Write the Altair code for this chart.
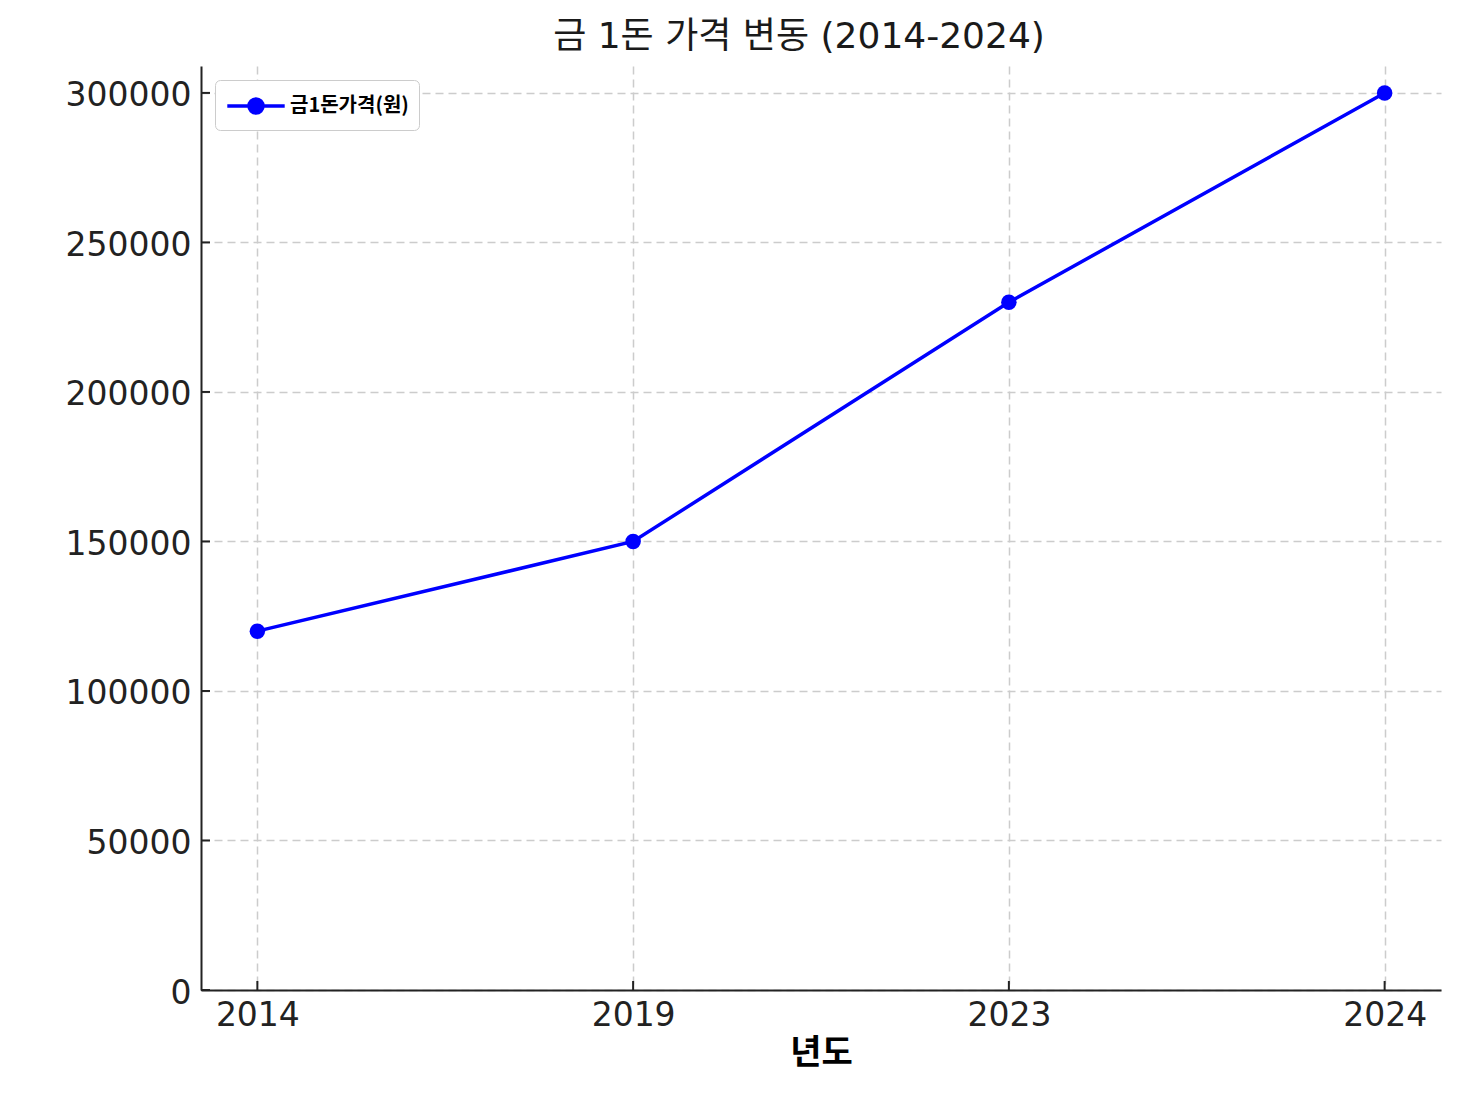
import altair as alt
import pandas as pd

years = ["2014", "2019", "2023", "2024"]
prices = [120000, 150000, 230000, 300000]
series_name = "금1돈가격(원)"
y_ticks = [0, 50000, 100000, 150000, 200000, 250000, 300000]

df = pd.DataFrame({"년도": years, "가격": prices, "series": [series_name] * len(years)})
ytick_df = pd.DataFrame({"v": y_ticks})
xtick_df = pd.DataFrame({"년도": years})

W, H = 1240, 924
FONT = "DejaVu Sans, Noto Sans CJK KR"

xscale = alt.Scale(type="point", padding=0.15, domain=years)
yscale = alt.Scale(domain=[0, 309000], nice=False, zero=True)

legend_symbol = "M-2.05,0H2.05 M-0.5,0 A0.5,0.5 0 1,1 0.5,0 A0.5,0.5 0 1,1 -0.5,0 Z"

line = alt.Chart(df).mark_line(
    color="#0000ff", strokeWidth=3.5,
    point=alt.OverlayMarkDef(filled=True, size=240, color="#0000ff", opacity=1),
).encode(
    x=alt.X("년도:O", scale=xscale, sort=years,
            axis=alt.Axis(title="년도", labelAngle=0, grid=True, values=years)),
    y=alt.Y("가격:Q", scale=yscale,
            axis=alt.Axis(title=None, values=y_ticks, grid=True, format="d",
                          labelOffset=3)),
    color=alt.Color("series:N", scale=alt.Scale(range=["#0000ff"]),
                    legend=alt.Legend(
                        title=None, orient="top-left", offset=14,
                        symbolType=legend_symbol, symbolSize=784,
                        symbolFillColor="#0000ff", symbolStrokeColor="#0000ff",
                        symbolStrokeWidth=3.5, symbolOffset=15,
                        labelFont="Noto Sans CJK KR", labelFontWeight="bold",
                        labelFontSize=20, labelColor="#000000",
                        strokeColor="#cccccc", fillColor="white", cornerRadius=5,
                        padding=10, labelOffset=18,
                    )),
)

ytick = alt.Chart(ytick_df).mark_rule(color="#222222", strokeWidth=2).encode(
    y=alt.Y("v:Q", scale=yscale),
    x=alt.value(0), x2=alt.value(9),
)
xtick = alt.Chart(xtick_df).mark_rule(color="#222222", strokeWidth=2).encode(
    x=alt.X("년도:O", scale=xscale, sort=years),
    y=alt.value(H - 9), y2=alt.value(H),
)

chart = alt.layer(line, ytick, xtick).properties(
    width=W, height=H,
    title=alt.TitleParams("금 1돈 가격 변동 (2014-2024)", fontSize=36, font=FONT,
                          fontWeight="normal", color="#1a1a1a", anchor="middle",
                          offset=10, dx=-22),
    autosize=alt.AutoSizeParams(type="none"),
    padding={"left": 193, "top": 58, "right": 12, "bottom": 99},
).configure_view(stroke=None).configure_axis(
    domainColor="#222222", domainWidth=2, ticks=False,
    gridColor="#cccccc", gridDash=[8, 5], gridWidth=1.5,
    labelFont="DejaVu Sans", labelFontSize=33, labelColor="#222222",
    labelPadding=9,
    titleFont="Noto Sans CJK KR", titleFontSize=34, titleFontWeight="bold",
    titleColor="#000000", titlePadding=4,
).configure_axisY(labelPadding=10)

chart.save("out.html", embed_options={"renderer": "svg", "actions": False})
